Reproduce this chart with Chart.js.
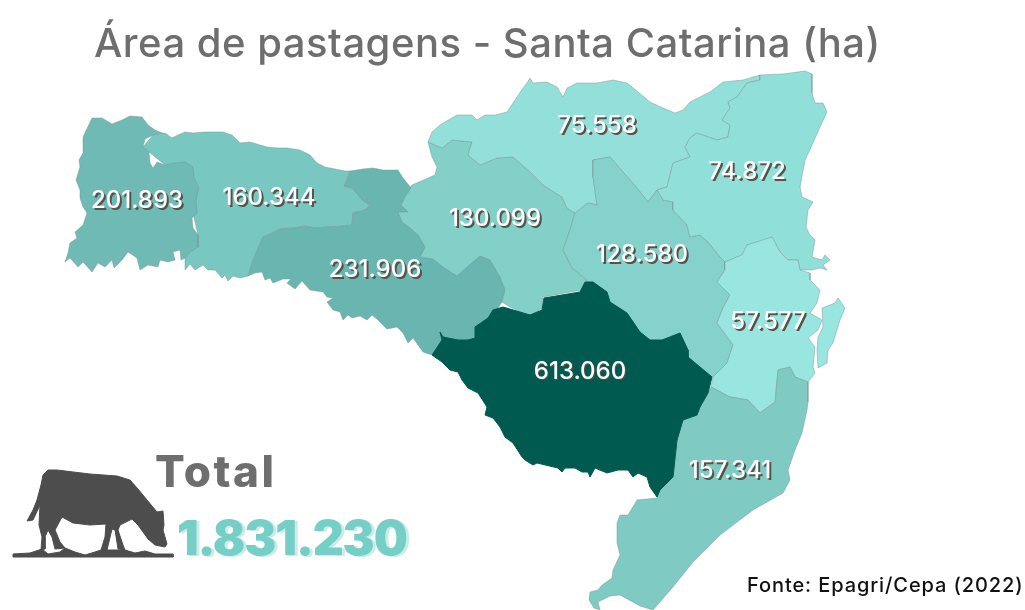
<!DOCTYPE html>
<html>
<head>
<meta charset="utf-8">
<script src="https://cdn.jsdelivr.net/npm/chart.js@4"></script>
<style>
  html, body { margin: 0; background: #fff; }
  canvas { display: block; }
</style>
</head>
<body>
<canvas id="mapa" width="1025" height="610"></canvas>
<script>
const valores = [201893, 160344, 130099, 231906, 75558, 128580, 74872, 57577, 613060, 157341];
const total = 1831230;

// centro de cada rotulo, na mesma ordem de valores
const rotuloX = [137, 269, 495, 375, 597, 642, 747, 768, 580, 730];
const rotuloY = [201, 198, 219, 270, 126, 255, 172, 322, 372, 471];

// contornos das regioes, em coordenadas do mapa
const extremoOeste = [[92,118],[102,118],[112,124],[122,120],[130,116],[142,117],[148,125],[155,130],[162,133],[153,135],[145,139],[143,147],[149,152],[150,163],[153,168],[157,162],[165,165],[175,163],[185,162],[193,167],[194,178],[199,188],[196,200],[197,213],[192,218],[193,228],[198,235],[198,247],[190,252],[185,258],[181,260],[180,250],[173,252],[175,260],[168,262],[160,260],[158,267],[148,265],[140,270],[137,258],[128,252],[122,260],[114,268],[112,260],[105,267],[98,263],[92,272],[83,262],[78,267],[70,258],[65,262],[68,253],[70,243],[77,238],[75,232],[83,225],[87,213],[83,207],[80,198],[80,190],[76,180],[80,167],[79,160],[83,153],[83,137]];
const oeste = [[162,133],[165,133],[172,138],[178,135],[185,132],[193,133],[205,132],[213,132],[223,132],[232,135],[240,143],[250,142],[260,145],[267,147],[277,148],[287,148],[300,150],[310,155],[317,163],[325,167],[335,169],[345,171],[350,171],[347,180],[344,186],[352,188],[358,195],[362,200],[370,205],[365,210],[353,213],[352,225],[343,226],[327,227],[315,228],[305,226],[293,228],[280,229],[272,233],[263,237],[258,248],[253,260],[248,276],[240,278],[233,276],[228,281],[225,275],[222,278],[215,270],[208,270],[203,265],[195,270],[190,264],[185,270],[185,258],[190,252],[198,235],[190,200],[165,165],[143,147],[153,135]];
const meioOeste = [[350,171],[363,169],[373,168],[383,170],[398,170],[403,178],[411,188],[405,197],[401,205],[408,212],[398,212],[402,222],[410,228],[418,235],[425,247],[420,257],[433,259],[443,267],[457,276],[467,267],[480,256],[490,260],[500,277],[505,290],[502,302],[470,350],[440,352],[432,355],[423,352],[413,338],[408,343],[403,333],[397,327],[387,329],[378,320],[372,315],[367,320],[360,316],[352,318],[348,315],[343,320],[340,312],[333,310],[327,302],[333,298],[327,297],[323,292],[310,290],[302,281],[295,289],[287,283],[291,279],[283,279],[273,283],[270,278],[265,280],[262,272],[255,273],[248,276],[253,260],[258,248],[263,237],[272,233],[280,229],[293,228],[305,226],[315,228],[327,227],[343,226],[352,225],[353,213],[365,210],[370,205],[362,200],[358,195],[352,188],[344,186],[347,180]];
const campos = [[428,142],[442,148],[452,140],[472,142],[468,155],[480,165],[497,158],[513,157],[528,170],[543,185],[562,197],[567,208],[575,213],[570,230],[563,250],[572,268],[587,280],[582,290],[543,297],[542,308],[530,317],[510,307],[502,302],[480,300],[440,285],[415,260],[395,225],[395,205],[408,190],[412,185],[435,175],[437,167],[432,157]];
const norte = [[428,142],[432,132],[440,125],[457,115],[472,115],[477,120],[485,115],[495,115],[507,112],[515,100],[523,88],[527,83],[530,78],[533,83],[547,82],[557,87],[563,97],[567,88],[577,83],[597,83],[613,80],[627,83],[638,92],[650,102],[663,108],[675,113],[683,110],[690,102],[710,92],[723,82],[743,80],[760,75],[760,80],[747,83],[737,97],[728,102],[730,108],[722,120],[730,125],[728,137],[717,140],[697,133],[690,138],[685,147],[690,157],[673,163],[667,187],[657,190],[648,202],[637,188],[623,172],[610,157],[593,160],[593,177],[597,205],[588,203],[575,213],[567,208],[562,197],[543,185],[528,170],[513,157],[497,158],[480,165],[468,155],[472,142],[452,140],[442,148]];
const vale = [[575,213],[588,203],[597,205],[593,177],[593,160],[610,157],[623,172],[637,188],[648,202],[657,190],[663,200],[673,202],[673,210],[687,225],[690,237],[700,235],[708,242],[720,257],[725,262],[725,270],[717,282],[730,295],[723,308],[717,323],[733,345],[727,363],[713,377],[690,370],[640,350],[600,310],[585,290],[587,280],[572,268],[563,250],[570,230]];
const nordeste = [[760,75],[783,74],[805,71],[812,74],[812,93],[815,103],[823,103],[827,112],[820,127],[813,143],[805,160],[800,187],[802,197],[813,202],[808,210],[806,227],[810,235],[815,240],[812,257],[822,260],[825,255],[830,260],[823,265],[827,270],[820,268],[812,270],[800,270],[798,260],[788,260],[780,252],[772,237],[760,242],[747,245],[742,255],[725,262],[720,257],[708,242],[700,235],[690,237],[687,225],[673,210],[673,202],[663,200],[657,190],[667,187],[673,163],[690,157],[685,147],[690,138],[697,133],[717,140],[728,137],[730,125],[722,120],[730,108],[728,102],[737,97],[747,83],[760,80]];
const litoral = [[725,262],[742,255],[747,245],[772,237],[780,252],[788,260],[798,260],[800,270],[810,273],[810,280],[820,290],[817,303],[810,313],[822,320],[818,330],[808,338],[815,347],[813,367],[815,373],[808,382],[795,377],[790,367],[778,370],[775,402],[760,413],[748,400],[730,397],[711,387],[713,377],[727,363],[733,345],[717,323],[723,308],[730,295],[717,282],[725,270]];
const ilha = [[822,308],[835,303],[838,298],[845,308],[840,320],[833,343],[828,350],[827,363],[818,368],[817,350],[818,337],[823,327]];
const serra = [[432,355],[442,340],[440,332],[443,337],[458,340],[468,340],[475,338],[475,327],[488,318],[493,310],[503,307],[530,315],[542,310],[544,298],[580,292],[585,282],[593,282],[607,292],[610,302],[627,313],[640,332],[650,340],[662,340],[680,333],[688,350],[688,357],[700,367],[712,377],[708,393],[700,407],[697,415],[683,420],[677,440],[673,477],[660,490],[657,497],[650,487],[647,477],[638,473],[633,477],[628,470],[618,470],[607,473],[595,468],[590,477],[588,472],[582,472],[575,468],[565,468],[562,472],[558,468],[537,463],[533,465],[525,460],[522,457],[513,443],[505,437],[500,427],[493,418],[485,415],[487,407],[478,393],[468,388],[462,380],[458,372],[450,370],[442,362]];
const sul = [[711,387],[730,397],[748,400],[760,413],[775,402],[778,370],[790,367],[795,377],[808,382],[808,402],[807,410],[802,433],[795,450],[788,470],[790,480],[783,493],[753,510],[720,535],[693,562],[673,587],[653,610],[640,606],[620,595],[610,596],[598,602],[600,610],[594,608],[589,600],[590,592],[598,590],[602,585],[612,578],[613,570],[620,555],[617,543],[617,523],[620,515],[628,515],[637,500],[657,498],[660,490],[673,477],[677,440],[683,420],[697,415],[700,407],[708,393]];

// boi e capim
const boi = [[43,475],[48,470],[57,470],[90,474],[117,476],[130,480],[138,489],[147,500],[157,512],[163,511],[164,525],[163,530],[167,544],[165,547],[155,545],[148,539],[138,525],[132,519],[120,525],[118,530],[123,545],[125,550],[118,549],[115,530],[112,529],[107,550],[101,550],[105,537],[106,524],[90,525],[73,523],[62,517],[55,530],[60,542],[65,548],[55,549],[52,537],[48,530],[45,537],[45,549],[41,550],[42,537],[39,525],[40,505],[33,520],[27,521],[33,510],[37,500],[41,485]];
const capim = [[13,554],[30,553],[42,549],[48,554],[60,552],[65,548],[75,552],[85,555],[95,552],[101,550],[125,550],[135,553],[145,551],[155,554],[173,554],[173,557],[13,557]];

const camadas = [oeste, extremoOeste, campos, meioOeste, norte, vale, nordeste, litoral, ilha, sul, serra, boi, capim];
const cores = ['#78c8c1', '#6fbab5', '#82d0c8', '#69b6b0', '#93e0da', '#84d2cb', '#90dfd9', '#98e6df', '#98e6df', '#7fcbc4', '#005a50', '#4d4d4d', '#4d4d4d'];
const contorno = 'rgba(120,145,142,0.45)';

const formata = v => String(v).replace(/\B(?=(\d{3})+(?!\d))/g, '.');

const datasets = camadas.map((pts, i) => ({
  data: pts.concat([pts[0]]).map(p => ({ x: p[0], y: p[1] })),
  showLine: true,
  fill: 'shape',
  tension: 0,
  pointRadius: 0,
  backgroundColor: cores[i],
  borderColor: i >= 10 ? cores[i] : contorno,
  borderWidth: 1,
  order: -i
}));

const textos = {
  id: 'textos',
  afterDatasetsDraw(chart) {
    const ctx = chart.ctx, sx = chart.scales.x, sy = chart.scales.y;
    ctx.save();
    ctx.textBaseline = 'alphabetic';

    ctx.textAlign = 'left';
    ctx.fillStyle = '#6e6e6e';
    ctx.font = '500 40px Inter';
    ctx.letterSpacing = '0.5px';
    ctx.fillText('Área de pastagens - Santa Catarina (ha)', 94, 57);

    ctx.font = '800 44px Inter';
    ctx.letterSpacing = '2.5px';
    ctx.fillText('Total', 155, 487);

    ctx.font = '900 48px Inter';
    ctx.letterSpacing = '-1.1px';
    ctx.fillStyle = '#c9ece8';
    ctx.fillText(formata(total), 180, 556);
    ctx.fillStyle = '#76cfc6';
    ctx.fillText(formata(total), 177, 555);

    ctx.font = '500 20px Inter';
    ctx.letterSpacing = '0.9px';
    ctx.fillStyle = '#111';
    ctx.fillText('Fonte: Epagri/Cepa (2022)', 747, 592);

    // rotulos das regioes, com sombra
    ctx.letterSpacing = '0px';
    ctx.textAlign = 'center';
    ctx.textBaseline = 'middle';
    ctx.font = '500 24px Inter';
    valores.forEach((v, i) => {
      const x = sx.getPixelForValue(rotuloX[i]), y = sy.getPixelForValue(rotuloY[i]);
      const d = i === 8 ? 1 : 2;
      ctx.fillStyle = '#56534a';
      ctx.fillText(formata(v), x + d, y + d);
      ctx.fillStyle = '#fff';
      ctx.fillText(formata(v), x, y);
    });
    ctx.restore();
  }
};

new Chart(document.getElementById('mapa'), {
  type: 'scatter',
  data: { datasets },
  plugins: [textos],
  options: {
    responsive: false,
    animation: false,
    clip: false,
    layout: { padding: 0 },
    plugins: { legend: { display: false }, tooltip: { enabled: false } },
    scales: {
      x: { type: 'linear', min: 0, max: 1025, display: false },
      y: { type: 'linear', min: 0, max: 610, reverse: true, display: false }
    }
  }
});
</script>
</body>
</html>
